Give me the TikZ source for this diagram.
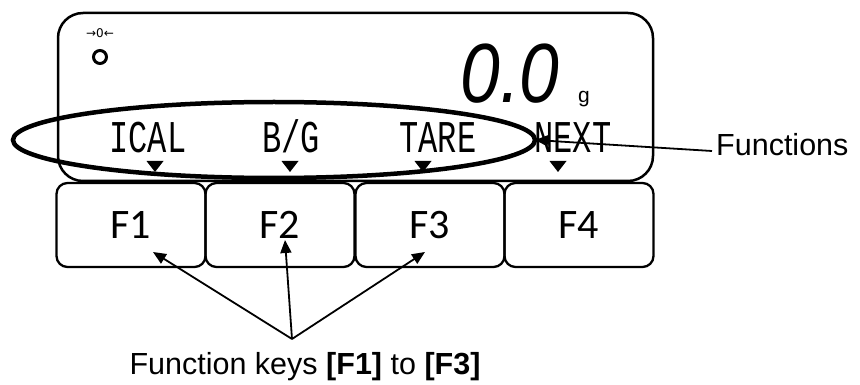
\documentclass[tikz,border=0pt]{standalone}
\usepackage{fontspec}
\setmainfont{Liberation Sans}
\newfontfamily\keyfont{Carlito}
\newfontfamily\lcdfont{Liberation Mono}
\newfontfamily\symfont{DejaVu Sans}
\usepackage{tikz}
\usetikzlibrary{arrows.meta, shapes.geometric, positioning}

\begin{document}
\begin{tikzpicture}[x=1pt, y=-1pt, >={Triangle[length=13pt,width=11pt]},
    keybox/.style={draw, line width=2.3pt, rounded corners=11pt, minimum width=149pt,
        minimum height=84pt, inner sep=0pt, font=\keyfont\fontsize{42}{42}\selectfont},
    lcdtext/.style={font=\lcdfont\fontsize{32}{32}\selectfont, yscale=1.42, inner sep=0pt, anchor=base},
    callout/.style={font=\fontsize{30.5}{30.5}\selectfont, inner sep=4pt}]
    \useasboundingbox (0,0) rectangle (860,385);

    % Khung màn hình
    \draw[line width=2.5pt, rounded corners=25pt] (58,13) rectangle (653,181);

    % Ký hiệu về không
    \node[font=\symfont\fontsize{12}{12}\selectfont, inner sep=0pt] (zeromark) at (100,33) {→0←};
    \draw[line width=3pt] (100,57) circle [radius=6.5pt];

    % Số đọc
    \node[font=\fontsize{84}{84}\selectfont\itshape, xscale=0.85, inner sep=0pt, anchor=base] (reading) at (510,103) {0.0};
    \node[font=\fontsize{21}{21}\selectfont, inner sep=0pt, anchor=base west] (unit) at (578,103) {g};

    % Chữ chức năng
    \node[lcdtext] (cal) at (148,153) {ICAL};
    \node[lcdtext] (bg) at (291,153) {B/G};
    \node[lcdtext] (tare) at (438,153) {TARE};
    \node[lcdtext] (next) at (573,153) {NEXT};

    % Tam giác chỉ phím
    \foreach \tx in {155,290,423,558} {
        \fill ({\tx-8.5},161) -- ({\tx+8.5},161) -- (\tx,172) -- cycle;
    }

    % Các phím
    \foreach \i/\cx in {1/131,2/280,3/430,4/579} {
        \node[keybox] (k\i) at (\cx,225) {F\i};
    }

    % Vòng bao và chú thích
    \node[draw, ellipse, line width=4.5pt, minimum width=522pt, minimum height=76pt,
        inner sep=0pt, outer sep=0pt] (fnring) at (274,140) {};
    \node[callout, anchor=west] (fnlabel) at (712,145) {Functions};
    \draw[->, line width=1.8pt] ([yshift=-6pt]fnlabel.west) -- (fnring.east);

    \node[callout] (keylabel) at (305,367) {Function keys \textbf{[F1]} to \textbf{[F3]}};
    \coordinate (apex) at (292,339);
    \coordinate (tip1) at (153,252);
    \coordinate (tip2) at (285,240);
    \coordinate (tip3) at (425,252);
    \foreach \t in {tip1,tip2,tip3} {
        \draw[->, line width=1.8pt] (apex) -- (\t);
    }

\end{tikzpicture}
\end{document}
